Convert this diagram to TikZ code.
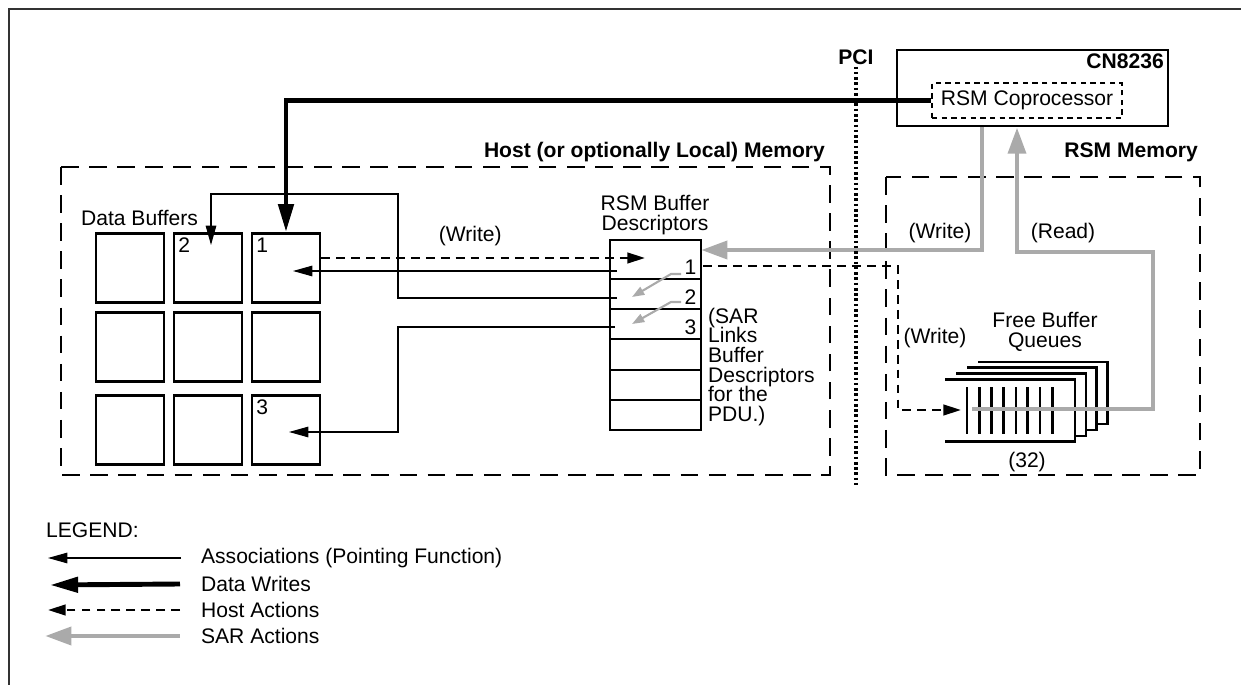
\documentclass[tikz,border=0pt]{standalone}
\usepackage{fontspec}
\setmainfont{Liberation Sans}
\usepackage{tikz}
\usetikzlibrary{positioning}
\usetikzlibrary{arrows.meta}
\definecolor{sargray}{RGB}{170,170,170}

\tikzset{
	buf/.style={rectangle, draw=black, line width=1.5pt, minimum width=1.36cm, minimum height=1.38cm, inner sep=0pt},
	desc/.style={rectangle, draw=black, line width=1.5pt, minimum width=1.82cm, inner sep=0pt, outer sep=0pt},
	region/.style={draw=black, line width=0.9pt, dash pattern=on 10pt off 6pt},
	queue/.style={draw=black, line width=1.4pt, fill=white},
	slot/.style={draw=black, line width=1.6pt},
	assoc/.style={-{Triangle[length=11pt,width=6pt]}, line width=0.6pt},
	datawrite/.style={-{Triangle[length=16pt,width=8.5pt]}, line width=2.8pt},
	hostact/.style={-{Triangle[length=10pt,width=6pt]}, line width=1.4pt, dash pattern=on 5pt off 3.5pt},
	saract/.style={-{Triangle[length=15pt,width=10pt]}, line width=2.8pt, draw=sargray},
	sarlink/.style={-{Triangle[length=7pt,width=5pt]}, line width=1.2pt, draw=sargray},
	txt/.style={inner sep=1pt},
}

\begin{document}
\fontsize{12}{11.2}\selectfont
\begin{tikzpicture}[x=0.02cm, y=-0.02cm]
		\useasboundingbox (0,0) rectangle (1241,685);
		\draw[line width=0.8pt, black!80] (9,685) -- (9,9) -- (1241,9);

		% memory regions
		\draw[region] (61,167) rectangle (830,475);
		\draw[region] (886,177) rectangle (1200,475);
		\node[txt, anchor=east, font=\bfseries](hostlbl) at (827,152){Host (or optionally Local) Memory};
		\node[txt, anchor=east, font=\bfseries](rsmlbl)  at (1200,152){RSM Memory};

		% chip
		\node[rectangle, draw=black, line width=1.6pt, minimum width=5.42cm, minimum height=1.52cm](cn) at (1032.5,88){};
		\node[txt, anchor=north east, font=\bfseries, inner sep=3pt](cnlbl) at (cn.north east){CN8236};
		\node[rectangle, draw=black, line width=0.7pt, dash pattern=on 3pt off 2.5pt, minimum width=3.8cm, minimum height=0.7cm, inner sep=0pt](cop) at (1027,100.5){RSM Coprocessor};

		% PCI boundary
		\node[txt, font=\bfseries](pci) at (856,57){PCI};
		\coordinate (pcibot) at (856,485);

		% data buffers
		\node[txt, anchor=west](dblbl) at (79,218){Data Buffers};
		\node[buf](tl) at (130,268){};
		\node[buf](tm) at (208,268){};
		\node[buf](tr) at (286,268){};
		\node[buf](ml) at (130,347){};
		\node[buf](mm) at (208,347){};
		\node[buf](mr) at (286,347){};
		\node[buf](bl) at (130,430){};
		\node[buf](bm) at (208,430){};
		\node[buf](br) at (286,430){};
		\node[anchor=north west, inner sep=3pt](numtwo)   at (tm.north west){2};
		\node[anchor=north west, inner sep=3pt](numone)   at (tr.north west){1};
		\node[anchor=north west, inner sep=3pt](numthree) at (br.north west){3};

		% buffer descriptors
		\node[txt, align=center, font=\fontsize{12}{11.5}\selectfont](desclbl) at (655,215){RSM Buffer\\Descriptors};
		\node[desc, minimum height=0.78cm](dA) at (655.5,259.5){};
		\node[desc, minimum height=0.6cm, below=0pt of dA](dB){};
		\node[desc, minimum height=0.6cm, below=0pt of dB](dC){};
		\node[desc, minimum height=0.62cm, below=0pt of dC](dD){};
		\node[desc, minimum height=0.6cm, below=0pt of dD](dE){};
		\node[desc, minimum height=0.6cm, below=0pt of dE](dF){};
		\node[anchor=south east, inner sep=2.5pt](dnone)   at (dA.south east){1};
		\node[anchor=south east, inner sep=2.5pt](dntwo)   at (dB.south east){2};
		\node[anchor=south east, inner sep=2.5pt](dnthree) at (dC.south east){3};
		\node[txt, anchor=west, align=left](sarlbl) at (706,367){(SAR\\Links\\Buffer\\Descriptors\\for the\\PDU.)};

		% free buffer queues
		\draw[queue] (978,362) -- (1107.5,362) -- (1107.5,424) -- (978,424);
		\draw[queue] (967,367.7) -- (1096.7,367.7) -- (1096.7,430) -- (967,430);
		\draw[queue] (956,373.5) -- (1086,373.5) -- (1086,436) -- (956,436);
		\draw[queue] (945,379.3) -- (1075,379.3) -- (1075,441.7) -- (945,441.7);
		\draw[slot] (967,387.3) -- (967,434.3);
		\draw[slot] (979.3,387.3) -- (979.3,434.3);
		\draw[slot] (991.7,387.3) -- (991.7,434.3);
		\draw[slot] (1003.5,387.3) -- (1003.5,434.3);
		\draw[slot] (1016,387.3) -- (1016,434.3);
		\draw[slot] (1027.7,387.3) -- (1027.7,434.3);
		\draw[slot] (1040,387.3) -- (1040,434.3);
		\draw[slot] (1052.3,387.3) -- (1052.3,434.3);
		\node[txt, align=center](fbqlbl) at (1045,332){Free Buffer\\Queues};
		\node[txt](cnt) at (1027,462){(32)};

		% connector end points
		\coordinate (ptrone) at (617,271);
		\coordinate (tipone) at (293,271);
		\coordinate (ptrtwo) at (617,298);
		\coordinate (tiptwo) at (211,245);
		\coordinate (ptrthree) at (615,327);
		\coordinate (tipthree) at (289,432);
		\coordinate (hwtip) at (645,258);
		\coordinate (hwtwo) at (703,266);
		\coordinate (qtip) at (961,410);
		\coordinate (sarw) at (701,250);
		\coordinate (qstart) at (972,409);
		\coordinate (lkone) at (681,274);
		\coordinate (lkonetip) at (632,297);
		\coordinate (lktwo) at (681,302);
		\coordinate (lktwotip) at (632,324);

		% associations
		\draw [assoc] (ptrone) -- (tipone);
		\draw [assoc] (ptrtwo) -- ++(-219,0) -- ++(0,-104) -| (tiptwo);
		\draw [assoc] (ptrthree) -- ++(-217,0) |- (tipthree);

		% data write
		\draw [datawrite] (cop.west) -| (tr.north);

		% host actions
		\draw [hostact] (tr.east |- hwtip) -- node[txt, pos=0.46, above=5pt]{(Write)}(hwtip);
		\draw [hostact] (hwtwo) -- ++(195,0) |- (qtip);
		\node[txt](hwlbl) at (935,338){(Write)};

		% SAR actions
		\draw [saract] ([xshift=-1.01cm]cn.south) |- (sarw);
		\draw [saract] (qstart) -- ++(181,0) -- ++(0,-157) -| ([xshift=-0.31cm]cn.south);
		\draw [sarlink] (lkone) -- ++(-10,0) -- (lkonetip);
		\draw [sarlink] (lktwo) -- ++(-10,0) -- (lktwotip);
		\node[txt](swlbl) at (940,233){(Write)};
		\node[txt](rdlbl) at (1063,233){(Read)};

		\draw [line width=2.2pt, dash pattern=on 1.5pt off 1.5pt] (pci.south) -- (pcibot);

		% legend
		\node[txt, anchor=west](legend) at (44,530){LEGEND:};
		\node[txt, anchor=west](lgone)   at (199,558){Associations (Pointing Function)};
		\node[txt, anchor=west](lgtwo)   at (199,584){Data Writes};
		\node[txt, anchor=west](lgthree) at (199,610){Host Actions};
		\node[txt, anchor=west](lgfour)  at (199,636){SAR Actions};
		\coordinate (laone) at (48,558);
		\coordinate (latwo) at (50,585);
		\coordinate (lathree) at (48,610);
		\coordinate (lafour) at (45,636);
		\draw [assoc] (lgone.west -| 181,0) -- (laone);
		\draw [datawrite] (lgtwo.west -| 180,0) -- (latwo);
		\draw [hostact] (lgthree.west -| 180,0) -- (lathree);
		\draw [saract] (lgfour.west -| 180,0) -- (lafour);
	\end{tikzpicture}
\end{document}
